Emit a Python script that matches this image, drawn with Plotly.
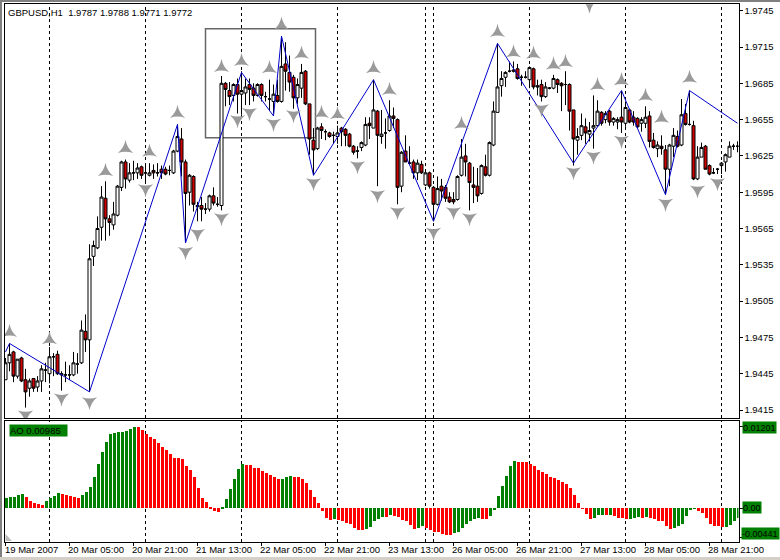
import numpy as np
import plotly.graph_objects as go

BASE_PRICE = 1.94
PIP = 0.0001
# Candles, in pips above BASE_PRICE
open_pips = [40,54,63,43,58,40,33,41,34,39,48,45,59,61,44,44,44,44,53,54,
80,73,142,149,166,190,173,168,176,199,220,205,211,211,216,211,209,213,211,214,
214,213,211,229,239,220,195,208,183,184,181,181,192,185,184,285,279,275,284,276,
277,284,281,275,284,274,272,270,275,270,301,294,290,273,281,295,268,238,231,249,
245,244,242,241,248,247,243,233,229,232,234,252,248,262,241,244,246,258,255,200,
229,219,220,211,218,201,211,199,185,200,199,191,189,189,209,225,219,201,200,194,
216,209,234,261,283,290,295,296,297,290,290,288,297,283,284,274,281,281,288,285,
284,284,263,238,242,249,243,248,250,261,255,262,253,253,257,252,263,257,256,252,
252,258,238,231,233,230,214,233,241,234,260,251,250,206,224,233,217,211,214,217,
220,224,233,233]
high_pips = [58,70,64,57,59,49,41,41,43,52,54,67,62,64,47,55,52,63,62,89,
94,152,155,175,200,204,176,187,201,221,222,219,221,219,217,217,219,218,219,217,
216,217,230,251,248,222,210,209,187,191,186,193,199,191,291,286,286,285,289,295,
289,289,285,285,285,278,288,284,288,324,319,308,292,289,301,296,268,248,249,252,
247,245,245,250,249,248,244,234,233,237,257,257,288,263,263,256,271,265,256,229,
242,233,222,222,221,212,212,200,208,206,201,195,195,209,239,235,220,216,215,218,
226,237,270,318,295,295,303,303,301,292,295,299,298,288,288,286,282,292,289,286,
295,285,263,248,260,256,253,275,271,262,262,263,257,257,279,270,264,262,257,257,
266,262,244,237,242,234,235,248,246,272,268,279,254,233,236,234,218,215,215,220,
227,237,235,237]
low_pips = [40,47,38,41,38,17,26,30,30,30,38,37,43,44,31,38,40,43,45,53,
63,30,134,148,155,155,159,164,175,196,198,203,205,206,206,204,208,206,208,206,
209,209,210,228,208,153,184,179,171,171,177,179,184,183,180,266,267,270,260,259,
267,267,270,274,270,270,262,260,269,269,279,278,264,268,273,267,226,209,230,239,
238,240,235,235,233,233,232,226,223,229,233,239,248,200,235,231,245,248,185,195,
220,218,206,205,210,200,198,171,184,188,187,186,185,188,208,208,180,186,187,193,
208,208,233,261,274,282,294,294,288,283,289,281,280,275,270,273,280,280,277,262,
267,246,217,226,238,235,237,231,249,250,252,250,250,247,244,249,252,250,248,245,
248,232,231,224,226,193,200,224,232,233,250,250,205,205,224,214,209,210,210,210,
212,224,230,228]
close_pips = [54,61,43,57,39,30,39,33,39,49,48,59,59,45,45,44,44,54,53,81,
73,140,151,165,191,173,170,177,200,220,206,211,211,215,209,211,211,211,211,211,
210,213,229,241,220,194,209,185,184,181,181,192,186,185,285,280,274,284,276,279,
282,280,275,284,275,274,272,276,270,299,295,286,273,284,294,268,239,230,248,246,
245,241,242,244,245,242,233,228,229,236,251,250,263,242,243,244,258,256,199,228,
220,219,211,219,211,211,200,185,198,196,190,187,187,208,224,220,203,199,192,217,
209,236,262,282,289,294,295,295,289,290,290,298,282,282,274,282,281,289,284,283,
284,262,239,241,250,244,246,250,262,252,260,253,256,255,253,265,253,253,249,255,
257,237,232,234,231,214,234,242,233,259,251,251,206,224,232,214,210,211,214,219,
226,233,233,233]

# ZigZag pivots: bar number, pips
zigzag_bar = [0,1,21,43,45,59,67,69,77,92,107,123,142,154,165,171,183]
zigzag_pips = [63,70,30,251,153,294,258,324,209,288,171,318,219,279,193,279,252]

# Fractal markers: bar number, pips
fractal_up_bar = [1,11,25,30,36,43,54,59,66,69,74,79,83,92,96,114,123,127,132,137,140,148,154,160,164,171]
fractal_up_pips = [79,73,212,231,228,260,298,303,297,333,309,260,259,297,279,251,327,310,309,300,302,283,287,274,256,289]
fractal_down_bar = [5,14,21,35,45,48,54,58,61,67,72,77,88,93,98,107,112,116,134,142,146,147,154,165,173,178]
fractal_down_pips = [11,25,22,198,146,161,174,255,261,252,259,203,217,193,179,162,179,174,264,212,350,225,238,186,197,203]

# Awesome Oscillator, in units of 0.00001
ao_units = [148,162,167,192,207,162,103,74,59,54,103,148,177,222,207,204,177,162,148,192,
236,310,458,650,827,975,1105,1108,1123,1125,1142,1172,1201,1197,1152,1093,1049,1019,960,901,
857,798,748,739,724,620,561,458,295,148,89,15,-39,-59,15,133,281,428,576,650,
647,635,601,591,547,517,487,458,428,438,458,473,470,458,428,369,266,162,74,-44,
-148,-177,-162,-177,-192,-222,-236,-295,-325,-327,-310,-281,-192,-162,-133,-135,-103,-118,-121,-177,
-192,-251,-310,-295,-266,-295,-325,-355,-357,-384,-387,-399,-369,-355,-295,-236,-192,-162,-148,-162,
-165,-118,-15,177,325,473,620,694,689,680,677,650,620,561,532,502,458,443,414,384,
355,295,192,74,-5,-89,-162,-148,-103,-98,-103,-98,-118,-148,-150,-162,-160,-148,-133,-148,
-133,-148,-162,-192,-194,-266,-310,-295,-266,-236,-118,-15,-10,-44,-74,-148,-236,-266,-268,-281,
-276,-251,-192,-148]

time_tick_bars = [0,16,32,48,64,80,96,112,128,144,160,176]
time_tick_labels = ["19 Mar 2007","20 Mar 05:00","20 Mar 21:00","21 Mar 13:00","22 Mar 05:00","22 Mar 21:00",
                    "23 Mar 13:00","26 Mar 05:00","26 Mar 21:00","27 Mar 13:00","28 Mar 05:00","28 Mar 21:00"]
price_ticks = [1.9415,1.9445,1.9475,1.9505,1.9535,1.9565,1.9595,1.9625,1.9655,1.9685,1.9715,1.9745]
period_sep_bars = [11,35,59,83,105,107,131,155,179]
box_bars = [50,77.5]
box_pips = [240,330]

def to_price(p):
    return (BASE_PRICE + np.array(p, dtype=float) * PIP).round(5)

W, H = 780, 560
FONT = "Liberation Sans"
bars = np.arange(len(open_pips))
ao = np.array(ao_units) * 1e-5
ao_diff = np.diff(ao, prepend=ao[0] - 1)
ao_colors = ["#008000" if d >= 0 else "#ff0000" for d in ao_diff]

fig = go.Figure()
fig.add_trace(go.Candlestick(
    x=bars, open=to_price(open_pips), high=to_price(high_pips), low=to_price(low_pips), close=to_price(close_pips),
    increasing=dict(line=dict(color="black", width=1), fillcolor="white"),
    decreasing=dict(line=dict(color="black", width=1), fillcolor="#d00000"),
    whiskerwidth=0, showlegend=False, xaxis="x", yaxis="y"))
fig.add_trace(go.Scatter(x=zigzag_bar, y=to_price(zigzag_pips), mode="lines",
    line=dict(color="#0000cc", width=1), showlegend=False, xaxis="x", yaxis="y"))
fig.add_trace(go.Scatter(x=fractal_up_bar, y=to_price(fractal_up_pips), mode="markers",
    marker=dict(symbol="star-triangle-up", size=11, color="#9a9a9a", line=dict(width=0)),
    showlegend=False, xaxis="x", yaxis="y"))
fig.add_trace(go.Scatter(x=fractal_down_bar, y=to_price(fractal_down_pips), mode="markers",
    marker=dict(symbol="star-triangle-down", size=11, color="#9a9a9a", line=dict(width=0)),
    showlegend=False, xaxis="x", yaxis="y"))
fig.add_trace(go.Bar(x=bars, y=ao, width=0.75, marker=dict(color=ao_colors, line=dict(width=0)),
    showlegend=False, xaxis="x2", yaxis="y2"))

x_range = [(4.5 - 5.5) / 4, (738.5 - 5.5) / 4]
x_dom = [4.5 / W, 738.5 / W]
axis_common = dict(showgrid=False, zeroline=False, showline=True, linecolor="black", linewidth=1, mirror=True,
                   automargin=False)
fig.update_layout(
    width=W, height=H, margin=dict(l=0, r=0, t=0, b=0), paper_bgcolor="white", plot_bgcolor="white",
    font=dict(family=FONT, size=10, color="black"), showlegend=False, boxgap=0.25, boxgroupgap=0, bargap=0,
    xaxis=dict(domain=x_dom, range=x_range, rangeslider=dict(visible=False), anchor="y",
               showticklabels=False, ticks="", **axis_common),
    yaxis=dict(domain=[1 - 418 / H, 1 - 4.3 / H], range=[BASE_PRICE + 8.4 * PIP, BASE_PRICE + 350.3 * PIP],
               side="right", tickvals=price_ticks, ticktext=[f"{v:.4f}" for v in price_ticks],
               tickfont=dict(size=9.5), ticks="outside", ticklen=3, tickwidth=1, tickcolor="black",
               anchor="x", **axis_common),
    xaxis2=dict(domain=x_dom, range=x_range, anchor="y2", tickvals=time_tick_bars, showticklabels=False,
                ticks="outside", ticklen=3, tickwidth=1, tickcolor="black", **axis_common),
    yaxis2=dict(domain=[1 - 542 / H, 1 - 420.7 / H], range=[-0.00502, 0.0129], side="right",
                tickvals=[0.01201, 0, -0.00441], showticklabels=False, ticks="outside", ticklen=3,
                tickwidth=1, tickcolor="black", anchor="x2", **axis_common),
)

shapes = []
for b in period_sep_bars:
    for xr, yr in (("x", "y domain"), ("x2", "y2 domain")):
        shapes.append(dict(type="line", xref=xr, yref=yr, x0=b, x1=b, y0=0, y1=1, layer="below",
                           line=dict(color="black", width=1, dash="3px,3px")))
shapes.append(dict(type="rect", xref="x", yref="y", x0=box_bars[0], x1=box_bars[1],
                   y0=float(to_price(box_pips[0])), y1=float(to_price(box_pips[1])), layer="below",
                   line=dict(color="#666666", width=1.5)))
# window edges
shapes.append(dict(type="rect", xref="paper", yref="paper", x0=0, x1=2 / W, y0=0, y1=1, fillcolor="#808080", line=dict(width=0)))
shapes.append(dict(type="rect", xref="paper", yref="paper", x0=0, x1=1, y0=1 - 2 / H, y1=1, fillcolor="#808080", line=dict(width=0)))
shapes.append(dict(type="rect", xref="paper", yref="paper", x0=0, x1=1, y0=0, y1=3 / H, fillcolor="#d4d0c8", line=dict(width=0)))
# scale-fix corner mark
shapes.append(dict(type="path", xref="paper", yref="paper",
                   path=f"M {5.5/W},{1-541/H} L {5.5/W},{1-534/H} L {12/W},{1-541/H} Z",
                   fillcolor="#bdbdbd", line=dict(width=0)))
fig.update_layout(shapes=shapes)

def lab(text, x, y, size=9.5, bg=None, width=None, height=None):
    fig.add_annotation(text=text, xref="paper", yref="paper", x=x / W, y=1 - y / H, xanchor="left", yanchor="middle",
                       showarrow=False, font=dict(family=FONT, size=size, color="black"), align="left",
                       bgcolor=bg, borderpad=0, width=width, height=height)

lab("GBPUSD,H1&nbsp;&nbsp;1.9787 1.9788 1.9771 1.9772", 7, 12)
lab("AO 0.00985", 9, 430.5, bg="#008000", width=57, height=11)
lab("0.01201", 742, 427.5, size=9, bg="#008000", width=33, height=11)
lab("0.00", 742, 507, size=9, bg="#008000", width=18, height=11)
lab("-0.00441", 741, 533.5, size=9, bg="#008000", width=37, height=11)
for b, t in zip(time_tick_bars, time_tick_labels):
    fig.add_annotation(text=t, xref="x2", yref="paper", x=b, y=1 - 549 / H, xanchor="left", yanchor="middle",
                       xshift=-3 if b == 0 else -4, showarrow=False, font=dict(family=FONT, size=9.5, color="black"))

fig.write_html("out.html", config=dict(displayModeBar=False), post_script="document.body.style.margin='0';")
